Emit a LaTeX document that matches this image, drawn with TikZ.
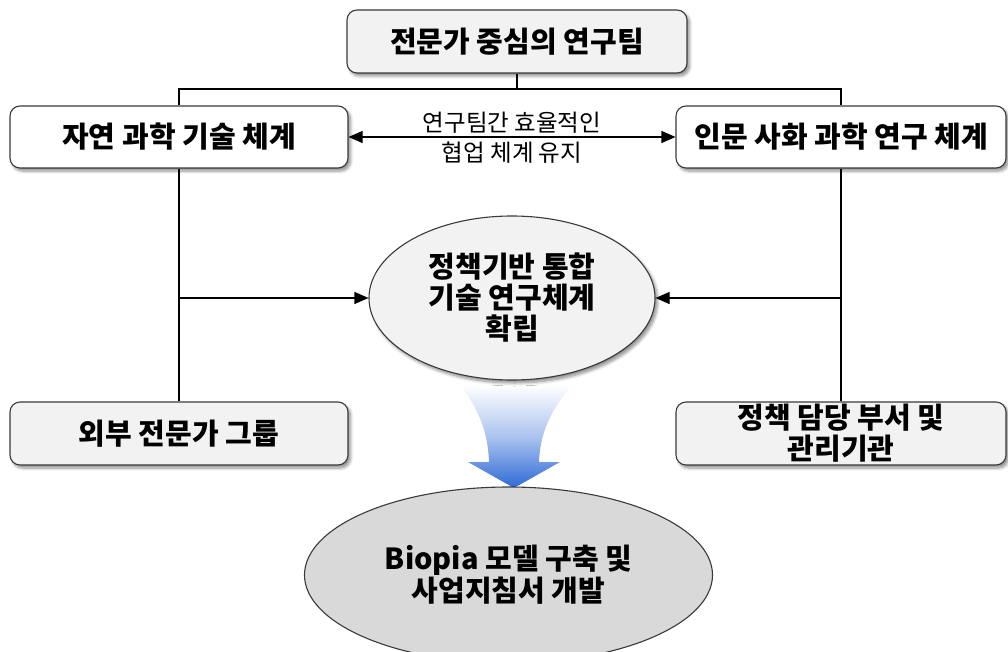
\documentclass[tikz,border=0pt]{standalone}
\usepackage{fontspec}
\setmainfont{Noto Sans CJK KR}
\usetikzlibrary{shapes.geometric,arrows.meta,shadows.blur}

\definecolor{boxfill}{HTML}{F2F2F2}
\definecolor{boxline}{HTML}{3A3A3A}
\definecolor{goalfill}{HTML}{D9D9D9}
\definecolor{flowblue}{HTML}{2E6AD6}

\tikzset{
  shade box/.style={blur shadow={shadow xshift=2.5pt, shadow yshift=-3pt,
      shadow blur steps=6, shadow blur radius=3pt, shadow opacity=45}},
  teambox/.style={draw=boxline, line width=1.1pt, fill=boxfill, rounded corners=10pt,
      inner sep=0pt, align=center, font=\fontsize{29}{31}\selectfont\bfseries, shade box},
  groupbox/.style={draw=boxline, line width=1.1pt, fill=white, rounded corners=10pt,
      inner sep=0pt, align=center, font=\fontsize{29}{31}\selectfont\bfseries, shade box},
  hubell/.style={ellipse, draw=boxline, line width=1.1pt, fill=boxfill, inner sep=0pt,
      align=center, font=\fontsize{29}{31}\selectfont\bfseries, shade box},
  goalell/.style={ellipse, draw=boxline, line width=1.1pt, fill=goalfill, inner sep=0pt,
      align=center, font=\fontsize{29}{32}\selectfont\bfseries},
  link/.style={draw=black, line width=1.1pt},
  arr/.style={link, -{Triangle[length=14pt, width=12pt]}},
  biarr/.style={link, {Triangle[length=14pt, width=12pt]}-{Triangle[length=14pt, width=12pt]}},
  note/.style={align=center, font=\fontsize{23.5}{28}\selectfont, inner sep=0pt}
}

\begin{document}
\begin{tikzpicture}[x=1pt, y=-1pt]
  \useasboundingbox (0,0) rectangle (1008,652);
  \clip (0,0) rectangle (1008,652);

  % research teams
  \node[teambox, minimum width=340pt, minimum height=63pt] (lead) at (517,41.5) {전문가 중심의 연구팀};
  \node[groupbox, minimum width=338pt, minimum height=62pt] (nat) at (179,137) {자연 과학 기술 체계};
  \node[groupbox, minimum width=330pt, minimum height=62pt] (hum) at (841,137) {인문 사화 과학 연구 체계};
  \node[teambox, minimum width=338pt, minimum height=63pt] (ext) at (179,433.5) {외부 전문가 그룹};
  \node[teambox, minimum width=330pt, minimum height=63pt] (pol) at (841,433.5) {정책 담당 부서 및\\관리기관};

  % flow arrow towards the final goal
  \shade[top color=white, bottom color=flowblue, middle color=flowblue!40]
    (460,385) .. controls (481,412) and (488,435) .. (489,462) -- (468,462)
    -- (514,488) -- (560,462) -- (539,462)
    .. controls (540,435) and (549,412) .. (572,385) -- cycle;

  % central hub and goal
  \node[hubell, minimum width=286pt, minimum height=164pt] (hub) at (512,298) {정책기반 통합\\기술 연구체계\\확립};
  \node[goalell, minimum width=408pt, minimum height=176pt] (goal) at (508.5,575) {Biopia 모델 구축 및\\사업지침서 개발};

  % tree from the lead team
  \coordinate (split) at (517,89);
  \draw[link] (lead.south) -- (split);
  \draw[link] (nat.north) -- (nat.north |- split) -- (hum.north |- split) -- (hum.north);

  % cooperation between the two systems
  \draw[biarr] (nat.east) -- (hum.west);
  \node[note, anchor=south] (coopa) at (512,134) {연구팀간 효율적인};
  \node[note, anchor=north] (coopb) at (512,142) {협업 체계 유지};

  % side branches into the hub
  \draw[link] (nat.south) -- (ext.north);
  \draw[link] (hum.south) -- (pol.north);
  \draw[arr] (nat.south |- hub.west) -- (hub.west);
  \draw[arr] (hum.south |- hub.east) -- (hub.east);
\end{tikzpicture}
\end{document}
